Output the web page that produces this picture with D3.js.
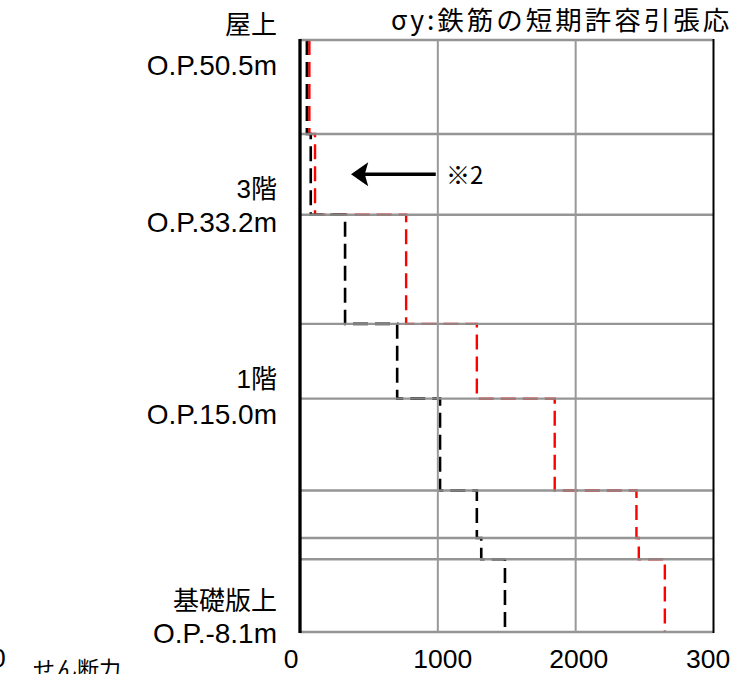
<!DOCTYPE html>
<html><head><meta charset="utf-8">
<script src="https://cdn.jsdelivr.net/npm/d3@7"></script>
<style>
html,body{margin:0;padding:0;background:#fff;overflow:hidden;}
svg{display:block;}
</style></head>
<body>
<script>
// ---- data ----
const levels = [50.5, 41.2, 33.2, 22.4, 15.0, 5.9, 1.2, -0.9, -8.1];
const shearValues = [50, 78, 327, 705, 1016, 1283, 1315, 1487];
const allowValues = [68, 109, 770, 1283, 1848, 2441, 2458, 2647];
const xTicks = [0, 1000, 2000, 3000];
const floorNames = ["屋上", "3階", "1階", "基礎版上"];
const floorOP = ["O.P.50.5m", "O.P.33.2m", "O.P.15.0m", "O.P.-8.1m"];
const floorLevels = [50.5, 33.2, 15.0, -8.1];
const titleText = "σy:鉄筋の短期許容引張応";
const noteText = "※2";

// ---- layout ----
const W = 731, H = 674;
const svg = d3.select("body").append("svg").attr("width", W).attr("height", H);
svg.append("rect").attr("width", W).attr("height", H).attr("fill", "#fff");

const x = d3.scaleLinear().domain([0, 3000]).range([300, 713.5]);
const y = d3.scaleLinear().domain([50.5, -8.1]).range([40, 632]);

const latin = "'Liberation Sans', Arial, 'Noto Sans CJK JP', sans-serif";
const cjk = "'Noto Sans CJK JP', sans-serif";

// step lines
function stepPoints(vals) {
  const pts = [];
  vals.forEach((v, i) => { pts.push([v, levels[i]]); pts.push([v, levels[i + 1]]); });
  return pts;
}
const line = d3.line().x(d => x(d[0])).y(d => y(d[1]));
svg.append("path").attr("d", line(stepPoints(allowValues)))
  .attr("fill", "none").attr("stroke", "#ff0000").attr("stroke-width", 2.4)
  .attr("stroke-dasharray", "15,7");
svg.append("path").attr("d", line(stepPoints(shearValues)))
  .attr("fill", "none").attr("stroke", "#000").attr("stroke-width", 2.6)
  .attr("stroke-dasharray", "15,7");

// horizontal gridlines (floor levels)
svg.append("g").selectAll("line").data(levels).join("line")
  .attr("x1", x(0)).attr("x2", x(3000))
  .attr("y1", d => y(d)).attr("y2", d => y(d))
  .attr("stroke", "rgb(140,140,140)").attr("stroke-opacity", 0.92).attr("stroke-width", 2.4);

// vertical gridlines
svg.append("g").selectAll("line").data([1000, 2000]).join("line")
  .attr("x1", d => x(d)).attr("x2", d => x(d))
  .attr("y1", y(50.5)).attr("y2", y(-8.1))
  .attr("stroke", "#999").attr("stroke-width", 2);

// borders
svg.append("line").attr("x1", x(0)).attr("x2", x(0)).attr("y1", y(50.5) - 1).attr("y2", y(-8.1) + 1)
  .attr("stroke", "#000").attr("stroke-width", 3.3);
svg.append("line").attr("x1", x(3000)).attr("x2", x(3000)).attr("y1", y(50.5) - 1).attr("y2", y(-8.1) + 1)
  .attr("stroke", "#000").attr("stroke-width", 2);

// x tick labels
const tickDx = [-9, 5, 3, 2];
svg.append("g").selectAll("text").data(xTicks).join("text")
  .attr("x", (d, i) => x(d) + tickDx[i]).attr("y", 668)
  .attr("text-anchor", "middle").attr("font-family", latin).attr("font-size", 26.5)
  .attr("fill", "#000").text(d => d3.format("d")(d));

// floor labels
const nameOffset = [-6, -17, -11, -22];
const opOffset = [35, 17, 25, 11];
const lg = svg.append("g").attr("font-family", latin).attr("fill", "#000").attr("text-anchor", "end");
lg.selectAll("text.nm").data(floorNames).join("text").attr("class", "nm")
  .attr("x", 277).attr("y", (d, i) => y(floorLevels[i]) + nameOffset[i])
  .attr("font-size", 26).text(d => d);
lg.selectAll("text.op").data(floorOP).join("text").attr("class", "op")
  .attr("x", 277).attr("y", (d, i) => y(floorLevels[i]) + opOffset[i])
  .attr("font-size", 28).text(d => d);

// title
svg.append("text").attr("x", 391).attr("y", 30)
  .attr("font-family", cjk).attr("font-size", 26.5)
  .attr("letter-spacing", 3).attr("fill", "#000").text(titleText);

// arrow annotation
const ay = y((levels[1] + levels[2]) / 2);
svg.append("line").attr("x1", x(985)).attr("x2", x(460)).attr("y1", ay).attr("y2", ay)
  .attr("stroke", "#000").attr("stroke-width", 3.5);
svg.append("path")
  .attr("d", `M${x(370)},${ay} L${x(495)},${ay - 12} L${x(470)},${ay} L${x(495)},${ay + 12} Z`)
  .attr("fill", "#000");
svg.append("text").attr("x", 446).attr("y", ay + 10)
  .attr("font-family", cjk).attr("font-size", 24)
  .attr("fill", "#000").text(noteText);

// clipped fragments from neighbouring chart
svg.append("text").attr("x", -9).attr("y", 667).attr("font-family", latin).attr("font-size", 26.5).text("0");
svg.append("text").attr("x", 33).attr("y", 677).attr("font-family", cjk).attr("font-size", 22).text("せん断力");
</script>
</body></html>
